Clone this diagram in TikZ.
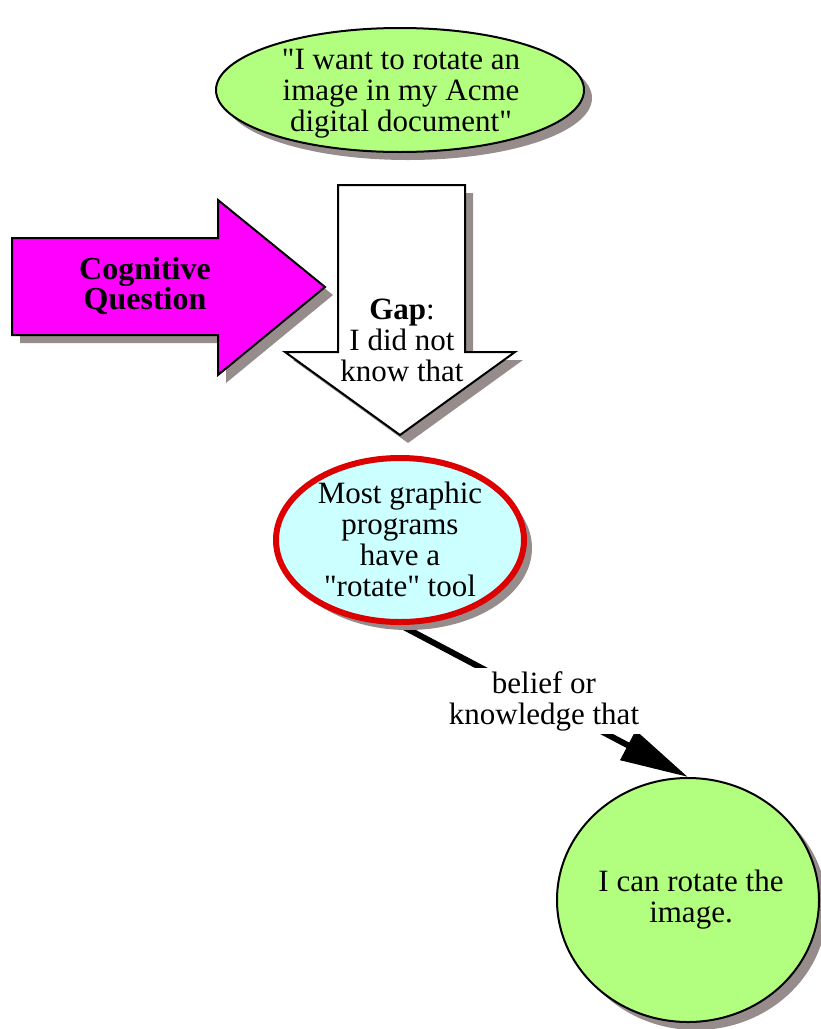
\documentclass[tikz,border=0pt]{standalone}
\usepackage{fontspec}
\setmainfont{Liberation Serif}
\usetikzlibrary{shapes.geometric,arrows.meta}
\definecolor{lgreen}{RGB}{178,255,128}
\definecolor{lcyan}{RGB}{204,255,255}
\definecolor{shadowgrey}{RGB}{150,140,140}
\definecolor{redline}{RGB}{221,0,0}
\definecolor{mag}{RGB}{255,0,255}
\pgfdeclarelayer{bg}
\pgfsetlayers{bg,main}
\begin{document}
\begin{tikzpicture}[x=1pt,y=-1pt,
  txt/.style={align=center,font=\fontsize{31}{31}\selectfont,inner sep=0pt},
  ell/.style={ellipse,inner sep=0pt,draw=black,line width=2pt},
  blockarrow/.style={draw=black,line width=2pt,line join=miter},
  shadowfill/.style={fill=shadowgrey,draw=none},
]
\useasboundingbox (0,0) rectangle (820,1029);

% top ellipse
\fill[shadowfill] (408,98) ellipse [x radius=184, y radius=62];
\node[ell,fill=lgreen,minimum width=368,minimum height=124] (want) at (400,90) {};
\node[txt] (wanttxt) at (401,94) {\textquotedbl I want to rotate an\\image in my Acme\\digital document\textquotedbl};

% magenta arrow
\fill[shadowfill,shift={(8,8)}] (12,238) -- (218,238) -- (218,200) -- (325,287) -- (218,375) -- (218,335) -- (12,335) -- cycle;
\draw[blockarrow,fill=mag] (12,238) -- (218,238) -- (218,200) -- (325,287) -- (218,375) -- (218,335) -- (12,335) -- cycle;
\node[txt,font=\fontsize{32}{30}\selectfont\bfseries] (cq) at (145,286) {Cognitive\\Question};

% down arrow (gap)
\fill[shadowfill,shift={(8,8)}] (338,185) -- (465,185) -- (465,352) -- (515,352) -- (400,435) -- (285,352) -- (338,352) -- cycle;
\draw[blockarrow,fill=white] (338,185) -- (465,185) -- (465,352) -- (515,352) -- (400,435) -- (285,352) -- (338,352) -- cycle;
\node[txt] (gap) at (402,340) {\textbf{Gap}:\\I did not\\know that};

% middle ellipse
\fill[shadowfill] (408,548) ellipse [x radius=124, y radius=82];
\node[ellipse,inner sep=0pt,draw=redline,line width=6pt,fill=lcyan,minimum width=248,minimum height=164] (most) at (400,540) {};
\node[txt] (mosttxt) at (400,539) {Most graphic\\programs\\have a\\\textquotedbl rotate\textquotedbl{} tool};

% bottom circle
\fill[shadowfill] (696,908) ellipse [x radius=131, y radius=122];
\node[ell,fill=lgreen,minimum width=262,minimum height=244] (can) at (688,900) {};
\node[txt] (cantxt) at (691,900) {I can rotate the\\image.};

% connector
\begin{pgfonlayer}{bg}
\draw[line width=6pt,-{Triangle[length=68pt,width=32pt]}] (most.south) -- (can.north)
  node[pos=0.5,txt,fill=white,inner sep=3pt] (lbl) {belief or\\knowledge that};
\end{pgfonlayer}
\end{tikzpicture}
\end{document}
